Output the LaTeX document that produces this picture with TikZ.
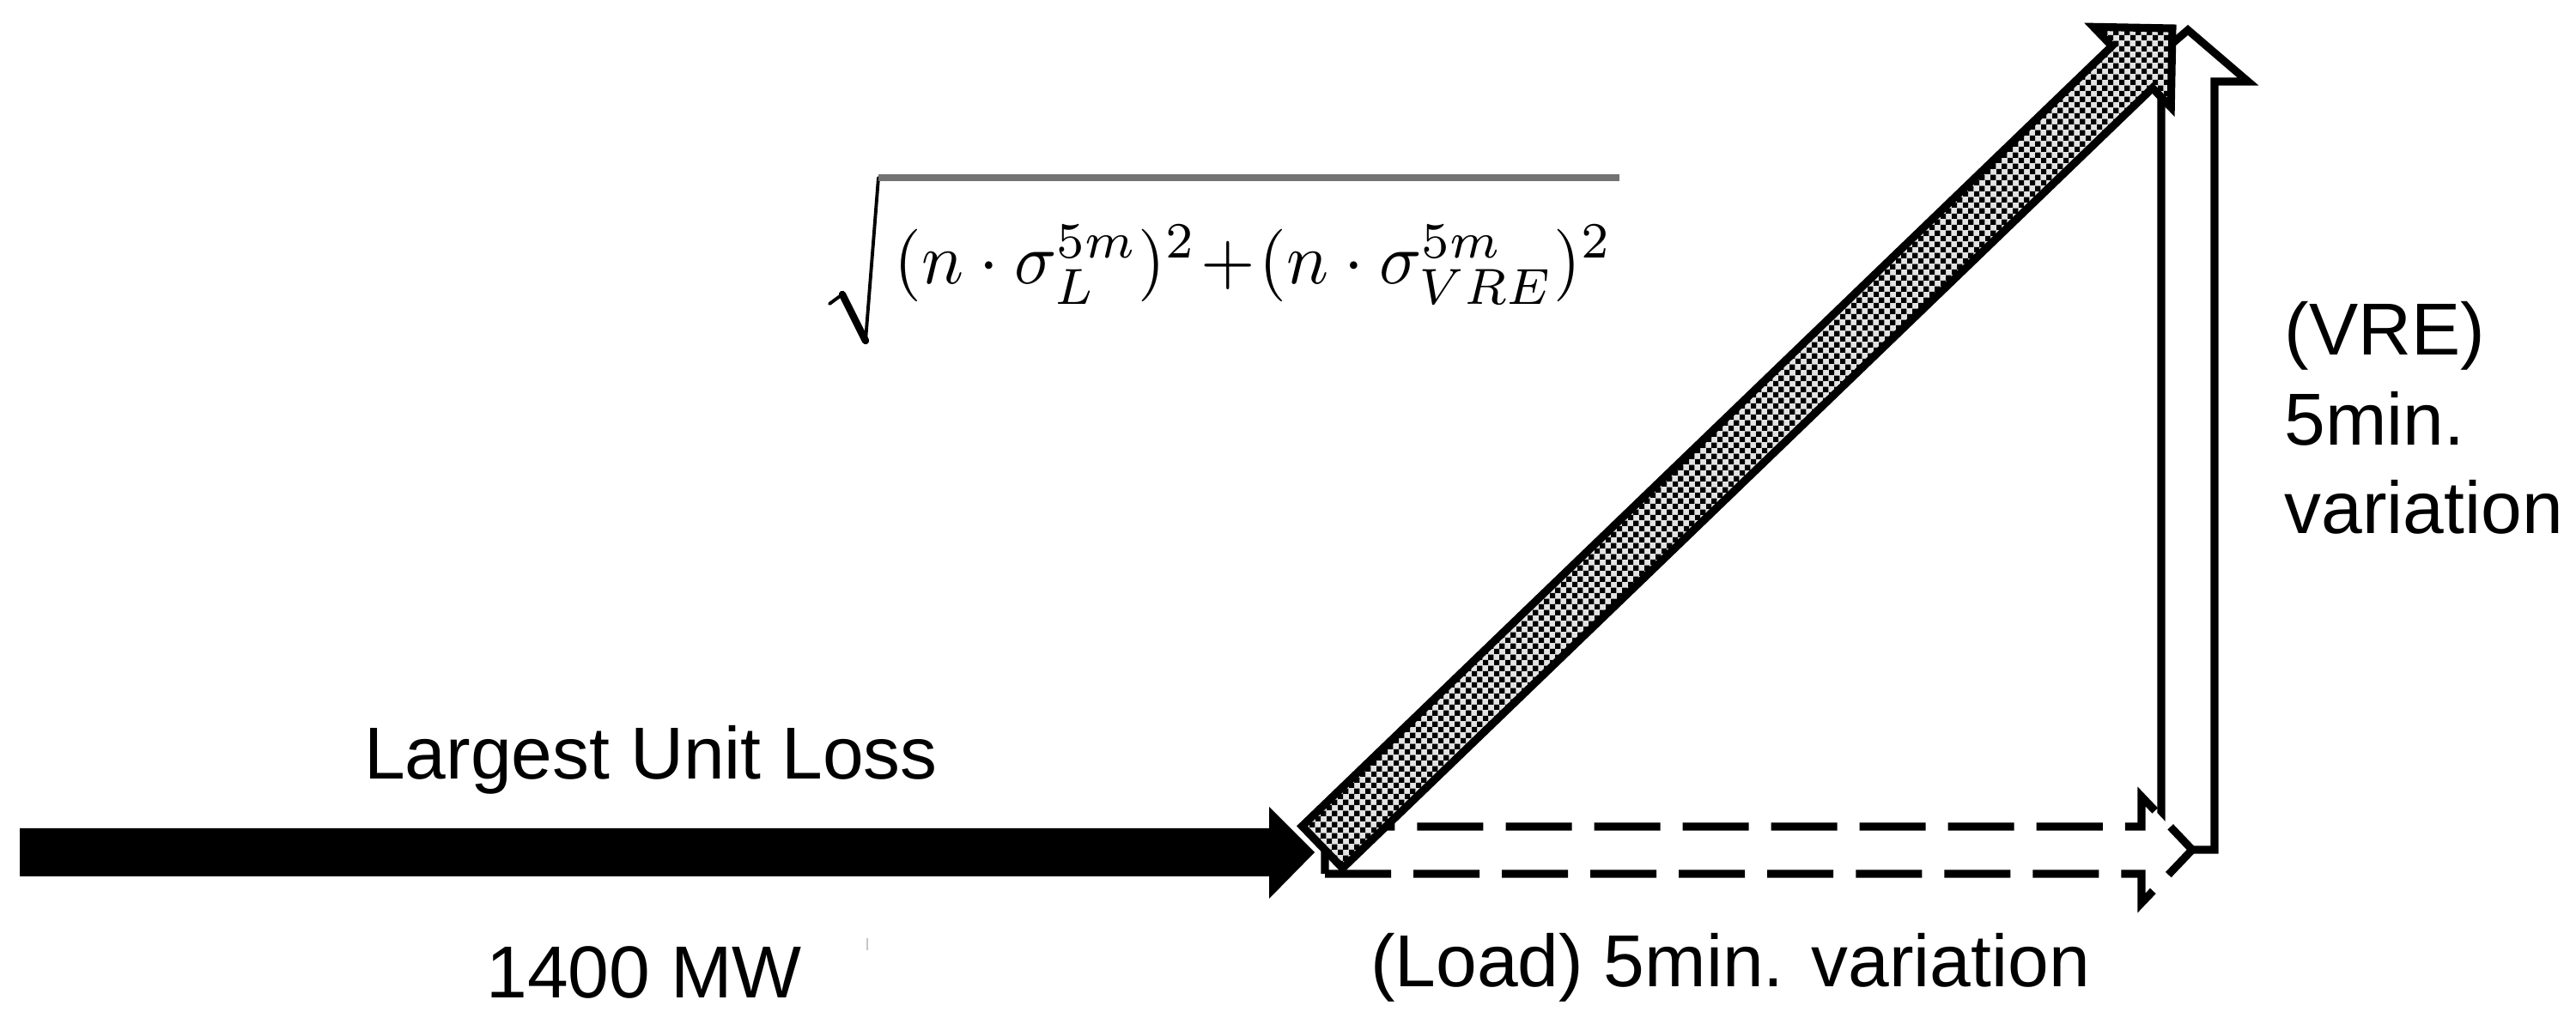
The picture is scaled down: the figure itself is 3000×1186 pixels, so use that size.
\documentclass[tikz,border=0pt]{standalone}
\usepackage[no-math]{fontspec}
\setmainfont{Liberation Sans}
\usepackage{graphicx}
\usetikzlibrary{patterns}
\pgfdeclarepatternformonly{checkerfine}{\pgfpoint{0pt}{0pt}}{\pgfpoint{3.6pt}{3.6pt}}{\pgfpoint{3.6pt}{3.6pt}}{%
  \pgfpathrectangle{\pgfpoint{0pt}{0pt}}{\pgfpoint{1.8pt}{1.8pt}}%
  \pgfpathrectangle{\pgfpoint{1.8pt}{1.8pt}}{\pgfpoint{1.8pt}{1.8pt}}%
  \pgfusepath{fill}}
\tikzset{
  lbl/.style={inner sep=0pt, font=\fontsize{24.4}{29}\selectfont},
  outl/.style={draw=black, line width=2.6pt, miter limit=20},
  dashoutl/.style={outl, dash pattern=on 21.9pt off 7.4pt},
  hatchfill/.style={pattern=checkerfine, pattern color=black, preaction={fill=gray!22}},
  radthin/.style={line width=1.1pt, line cap=round, line join=round},
  radthick/.style={line width=2.4pt, line cap=round},
}
\begin{document}
\begin{tikzpicture}[x=0.01cm, y=0.01cm]
\useasboundingbox (0,0) rectangle (3000,1186);

% Largest unit loss (solid black arrow)
\coordinate (blkTail) at (23,193);
\coordinate (blkTip) at (1531,193);
\fill[black] (23,165) -- (1478,165) -- (1478,139) -- (blkTip) -- (1478,246) -- (1478,221) -- (23,221) -- cycle;

% VRE variation (white block arrow, vertical)
\coordinate (vreTip) at (2548,1151);
\filldraw[outl, fill=white] (2517,196) -- (2517,1091) -- (2478,1091) -- (vreTip) -- (2618,1091) -- (2579,1091) -- (2579,196) -- cycle;

% Load variation (dashed block arrow, horizontal)
\coordinate (loadTail) at (1543,196);
\coordinate (loadTip) at (2553,196);
\filldraw[dashoutl, fill=white] (1543,168) -- (2494,168) -- (2494,134) -- (loadTip) -- (2494,258) -- (2494,223) -- (1543,223) -- cycle;

% Resultant (hatched arrow)
\coordinate (resTail) at (1540,199);
\coordinate (resTip) at (2530,1153);
\begin{scope}[shift={(resTail)}, rotate=43.94]
  \filldraw[outl, hatchfill] (0,-34) -- (1309.8,-34) -- (1309.8,-65) -- (1374.8,0) -- (1309.8,65) -- (1309.8,34) -- (0,34) -- cycle;
\end{scope}

% Labels
\node[lbl, anchor=base] (lul) at (758,278) {Largest Unit Loss};
\node[lbl, anchor=base] (mw) at (750,23) {1400 MW};
\node[lbl, anchor=base] (loadlbl) at (2015,36) {(Load) 5min. variation};
\node[lbl, anchor=base west] (vre1) at (2660,772) {(VRE)};
\node[lbl, anchor=base west] (vre2) at (2660,667) {5min.};
\node[lbl, anchor=base west] (vre3) at (2660,564) {variation};

% Formula: radical drawn by hand, content scaled to the reference box
\coordinate (radA) at (966,832);
\coordinate (radB) at (981,843);
\coordinate (radC) at (1008,789);
\coordinate (radD) at (1023,979);
\coordinate (radE) at (1886,979);
\draw[radthin] (radA) -- (radB);
\draw[radthick] (radB) -- (radC);
\draw[radthin] (radC) -- (radD);
\draw[black!55, line width=2.2pt] (radD) -- (radE);
\node[inner sep=0pt, anchor=south west] (formula) at (1041,831)
  {\resizebox*{8.36cm}{0.92cm}{$(n\cdot\sigma_L^{5m})^2\!+\!(n\cdot\sigma_{VRE}^{5m})^2$}};

% small stray mark
\coordinate (markA) at (1010,93);
\coordinate (markB) at (1010,79);
\draw[gray!45, line width=0.8pt] (markA) -- (markB);
\end{tikzpicture}
\end{document}
